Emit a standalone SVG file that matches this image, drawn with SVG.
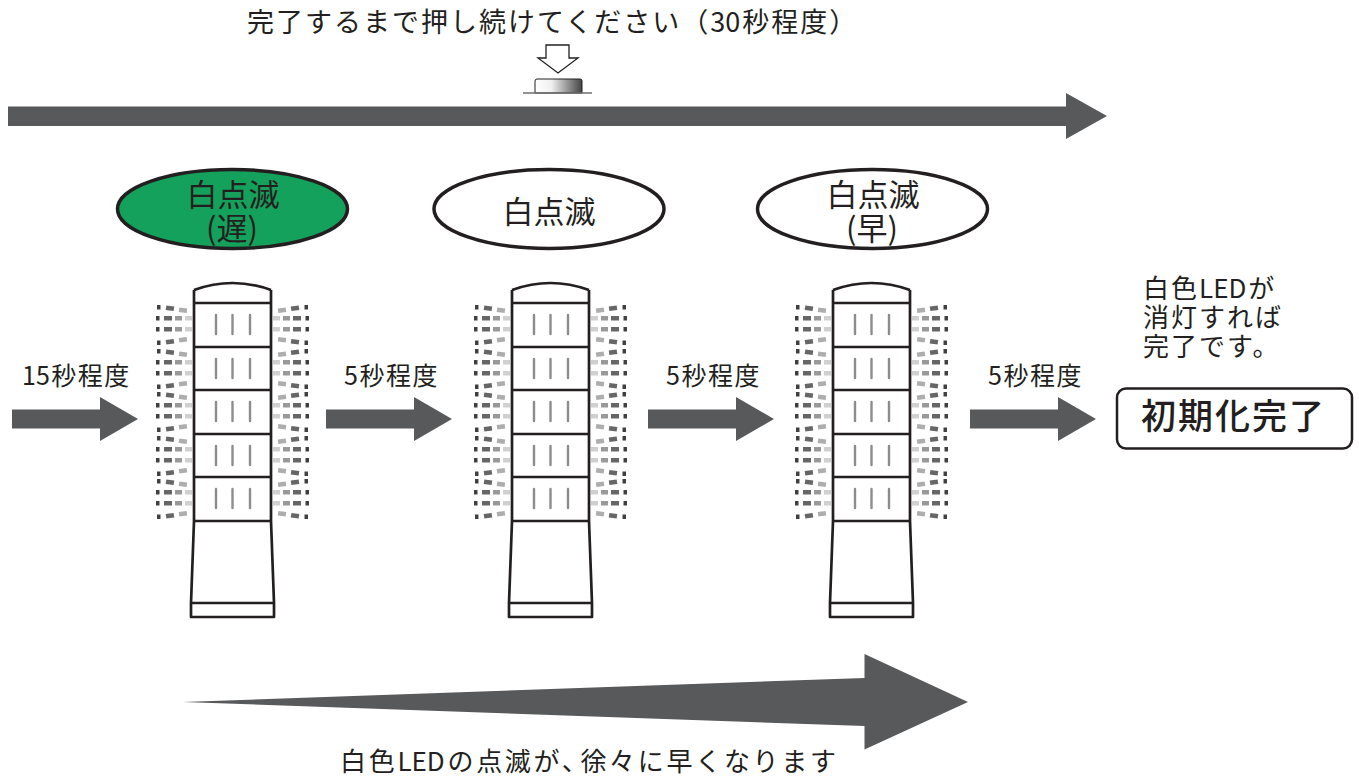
<svg xmlns="http://www.w3.org/2000/svg" xmlns:xlink="http://www.w3.org/1999/xlink" width="1359" height="780" viewBox="0 0 1359 780">
  <style>
    .jp { font-family: "Noto Sans CJK JP", "Noto Sans", sans-serif; fill: #231f20; }
    .arrow { fill: #58595b; }
    .ln { stroke: #231f20; stroke-width: 2.7; fill: none; stroke-linejoin: round; }
    .bar { stroke: #8c8c8c; stroke-width: 2.4; stroke-linecap: round; }
    .oval { stroke: #231f20; stroke-width: 3.5; }
  </style>
  <defs>
    <linearGradient id="btnGrad" x1="0" y1="0" x2="1" y2="0">
      <stop offset="0" stop-color="#ffffff"/>
      <stop offset="0.35" stop-color="#f0f0f0"/>
      <stop offset="1" stop-color="#444444"/>
    </linearGradient>

    <!-- one band of glow dashes beside one lamp segment (left side) -->
    <g id="gseg">
      <rect x="-37" y="2" width="3.5" height="4.5" fill="#404040"/>
      <rect x="-28" y="3" width="8" height="4.5" fill="#666666" transform="rotate(8 -24 5)"/>
      <rect x="-15" y="5" width="8" height="4.5" fill="#adadad" transform="rotate(8 -11 7)"/>

      <rect x="-38" y="13" width="3.5" height="4.5" fill="#404040"/>
      <rect x="-30" y="13" width="8" height="4.5" fill="#666666"/>
      <rect x="-19" y="13" width="7" height="4.5" fill="#999999"/>
      <rect x="-9" y="13" width="7" height="4.5" fill="#d0d0d0"/>

      <rect x="-38" y="24" width="3.5" height="4.5" fill="#404040"/>
      <rect x="-30" y="24" width="8" height="4.5" fill="#666666"/>
      <rect x="-19" y="24" width="7" height="4.5" fill="#999999"/>
      <rect x="-9" y="24" width="7" height="4.5" fill="#d0d0d0"/>

      <rect x="-37" y="37.5" width="3.5" height="4.5" fill="#404040"/>
      <rect x="-28" y="36.5" width="8" height="4.5" fill="#666666" transform="rotate(-8 -24 39)"/>
      <rect x="-15" y="34.5" width="8" height="4.5" fill="#adadad" transform="rotate(-8 -11 37)"/>
    </g>
    <g id="glowL">
      <use xlink:href="#gseg" href="#gseg" y="0"/>
      <use xlink:href="#gseg" href="#gseg" y="44"/>
      <use xlink:href="#gseg" href="#gseg" y="87"/>
      <use xlink:href="#gseg" href="#gseg" y="131"/>
      <use xlink:href="#gseg" href="#gseg" y="174"/>
    </g>

    <!-- light bars in one lamp segment -->
    <g id="bars">
      <line class="bar" x1="22" y1="12" x2="22" y2="31"/>
      <line class="bar" x1="38.5" y1="12" x2="38.5" y2="31"/>
      <line class="bar" x1="56" y1="12" x2="56" y2="31"/>
    </g>

    <!-- signal tower, left edge at x=0 -->
    <g id="tower">
      <path d="M0,290 Q38.5,276 77,290 V521 L80,603 V617 H-3 V603 L0,521 Z" fill="#ffffff"/>
      <path class="ln" d="M0,290 Q38.5,276 77,290"/>
      <path class="ln" d="M0,290 V521 L-3,603 V617 H80 V603 L77,521 V290"/>
      <path class="ln" d="M0,303 H77 M0,347 H77 M0,390 H77 M0,434 H77 M0,477 H77 M0,521 H77 M-3,603 H80"/>
      <use xlink:href="#bars" href="#bars" y="303"/>
      <use xlink:href="#bars" href="#bars" y="347"/>
      <use xlink:href="#bars" href="#bars" y="390"/>
      <use xlink:href="#bars" href="#bars" y="434"/>
      <use xlink:href="#bars" href="#bars" y="477"/>
      <use xlink:href="#glowL" href="#glowL" transform="translate(0,303)"/>
      <use xlink:href="#glowL" href="#glowL" transform="translate(77,303) scale(-1,1)"/>
    </g>

    <path id="smallArrow" d="M0,-9.5 H88 V-22 L126,0 L88,22 V9.5 H0 Z"/>
  </defs>

  <rect width="1359" height="780" fill="#ffffff"/>

  <!-- instruction and push button -->
  <g id="instruction">
    <text class="jp" x="247" y="32" font-size="27" letter-spacing="2">完了するまで押し続けてください（<tspan letter-spacing="0">3</tspan>0秒程度）</text>
    <polygon points="546,45 569,45 569,58 578,58 558,73 538,58 546,58" fill="#ffffff" stroke="#231f20" stroke-width="1.3" stroke-linejoin="miter"/>
    <path d="M535,93 V81 Q535,79 537,79 H580 Q582,79 582,81 V93 Z" fill="url(#btnGrad)" stroke="#231f20" stroke-width="1"/>
    <line x1="523" y1="93" x2="592" y2="93" stroke="#6d6e70" stroke-width="1.6"/>
  </g>

  <!-- connectors -->
  <g id="connectors">
    <path class="arrow" d="M8,106.5 H1066 V93 L1107,116 L1066,139 V126 H8 Z"/>
    <use class="arrow" xlink:href="#smallArrow" href="#smallArrow" transform="translate(12,419)"/>
    <use class="arrow" xlink:href="#smallArrow" href="#smallArrow" transform="translate(326,419)"/>
    <use class="arrow" xlink:href="#smallArrow" href="#smallArrow" transform="translate(648,419)"/>
    <use class="arrow" xlink:href="#smallArrow" href="#smallArrow" transform="translate(970,419)"/>
    <path class="arrow" d="M183,702 L864.5,678 V654 L968,702 L864.5,749.5 V726 Z"/>
    <text class="jp" x="22" y="385" font-size="25" letter-spacing="1.5"><tspan letter-spacing="0">1</tspan>5秒程度</text>
    <text class="jp" x="344" y="385" font-size="25" letter-spacing="1.5">5秒程度</text>
    <text class="jp" x="666" y="385" font-size="25" letter-spacing="1.5">5秒程度</text>
    <text class="jp" x="988" y="385" font-size="25" letter-spacing="1.5">5秒程度</text>
    <text class="jp" x="340" y="771" font-size="26" letter-spacing="2.7">白色<tspan letter-spacing="0">LE</tspan>Dの点滅が、<tspan dx="-10">徐々に早くなります</tspan></text>
  </g>

  <!-- blink state labels -->
  <g id="state-slow">
    <ellipse class="oval" cx="232.5" cy="209" rx="115" ry="39.5" fill="#14a15b"/>
    <text class="jp" x="233" y="206" font-size="31" text-anchor="middle">白点滅</text>
    <text class="jp" x="232" y="240" font-size="31" text-anchor="middle">(遅)</text>
  </g>
  <g id="state-mid">
    <ellipse class="oval" cx="549" cy="209" rx="115" ry="39.5" fill="#ffffff"/>
    <text class="jp" x="549" y="223" font-size="31" text-anchor="middle">白点滅</text>
  </g>
  <g id="state-fast">
    <ellipse class="oval" cx="872.5" cy="209" rx="115" ry="39.5" fill="#ffffff"/>
    <text class="jp" x="873" y="206" font-size="31" text-anchor="middle">白点滅</text>
    <text class="jp" x="872" y="240" font-size="31" text-anchor="middle">(早)</text>
  </g>

  <!-- signal towers -->
  <g id="tower-1"><use xlink:href="#tower" href="#tower" transform="translate(194,0)"/></g>
  <g id="tower-2"><use xlink:href="#tower" href="#tower" transform="translate(512,0)"/></g>
  <g id="tower-3"><use xlink:href="#tower" href="#tower" transform="translate(833,0)"/></g>

  <!-- result -->
  <g id="result">
    <text class="jp" x="1143" y="298" font-size="26" letter-spacing="2">白色<tspan letter-spacing="0">LE</tspan>Dが</text>
    <text class="jp" x="1143" y="327" font-size="26" letter-spacing="2">消灯すれば</text>
    <text class="jp" x="1143" y="356" font-size="26" letter-spacing="2">完了です。</text>
    <rect x="1117" y="388.5" width="235" height="60" rx="9" fill="#ffffff" stroke="#231f20" stroke-width="2.5"/>
    <text class="jp" x="1141" y="429" font-size="35" font-weight="500" letter-spacing="2">初期化完了</text>
  </g>
</svg>
